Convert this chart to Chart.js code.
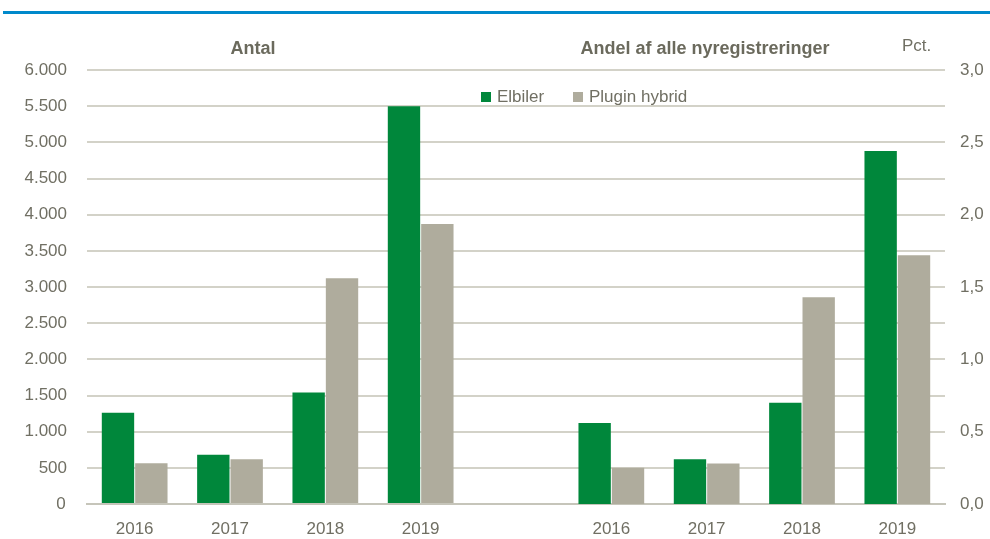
<!DOCTYPE html>
<html lang="da">
<head>
    <meta charset="UTF-8">
    <title>Elbiler og plugin hybrid</title>
    <script src="https://cdn.jsdelivr.net/npm/chart.js@4.4.1/dist/chart.umd.min.js"></script>
    <style>
        body { margin: 0; background: #fff; }
        #wrap { position: relative; width: 990px; height: 539px; overflow: hidden;
                font-family: 'Liberation Sans', Arial, sans-serif; color: #706f63; }
        #topline { position: absolute; left: 3px; right: 0; top: 11px; height: 3px; background: #0089cb; }
        .ttl { position: absolute; font-weight: bold; font-size: 18px; line-height: 22px; color: #6b6a5d; white-space: nowrap; }
        #pct { position: absolute; left: 902px; top: 36px; font-size: 17px; line-height: 20px; }
        .leg { position: absolute; top: 87px; font-size: 17px; line-height: 20px; white-space: nowrap; }
        .leg i { display: inline-block; width: 10px; height: 10px; margin-right: 6px; vertical-align: 0; }
        canvas { position: absolute; left: 0; top: 0; }
    </style>
</head>
<body>
<div id="wrap">
    <div id="topline"></div>
    <canvas id="chart" width="990" height="539"></canvas>
    <!-- panel titles -->
    <div class="ttl" style="left:203px;width:100px;text-align:center;top:37px">Antal</div>
    <div class="ttl" style="left:555px;width:300px;text-align:center;top:37px">Andel af alle nyregistreringer</div>
    <div id="pct">Pct.</div>
    <!-- legend -->
    <div class="leg" style="left:481px"><i style="background:#00873b"></i>Elbiler</div>
    <div class="leg" style="left:573px"><i style="background:#afac9d"></i>Plugin hybrid</div>
</div>
<script>
// data
const years = ['2016', '2017', '2018', '2019'];
const antalElbiler = [1260, 680, 1540, 5500];
const antalPlugin = [565, 620, 3120, 3870];
const andelElbiler = [0.56, 0.31, 0.70, 2.44];
const andelPlugin = [0.25, 0.28, 1.43, 1.72];
const antalMax = 6000, antalStep = 500;
const andelMax = 3, andelStep = 0.5;

const green = '#00873b';
const grey = '#afac9d';
const textCol = '#706f63';
const gridCol = '#d3d2c8';
const tickFont = { family: "'Liberation Sans', Arial, sans-serif", size: 17 };

// left half: antal, one empty slot, right half: andel
const categories = years.concat([''], years);
const blank = years.map(() => null).concat([null]);

function danishInt(v) {
    if (v === 0) return '0\u200A';
    return String(v).replace(/\B(?=(\d{3})+(?!\d))/g, '.');
}

var ctx = document.getElementById('chart').getContext('2d');
var chart = new Chart(ctx, {
    type: 'bar',
    data: {
        labels: categories,
        datasets: [
            { label: 'Elbiler', data: antalElbiler.concat(blank), backgroundColor: green, stack: 'el', yAxisID: 'y' },
            { label: 'Plugin hybrid', data: antalPlugin.concat(blank), backgroundColor: grey, stack: 'ph', yAxisID: 'y' },
            { label: 'Elbiler', data: blank.concat(andelElbiler), backgroundColor: green, stack: 'el', yAxisID: 'y1' },
            { label: 'Plugin hybrid', data: blank.concat(andelPlugin), backgroundColor: grey, stack: 'ph', yAxisID: 'y1' }
        ]
    },
    options: {
        responsive: false,
        devicePixelRatio: 1,
        animation: false,
        layout: { padding: { top: 70, left: 0, right: 0, bottom: 0 } },
        datasets: { bar: { categoryPercentage: 0.7, barPercentage: 0.97 } },
        plugins: { legend: { display: false }, tooltip: { enabled: false } },
        scales: {
            x: {
                grid: { display: false },
                border: { display: true, color: '#c6c5ba', width: 2 },
                ticks: { color: textCol, padding: 7, maxRotation: 0, autoSkip: false, font: tickFont },
                afterFit: function (s) { s.height = 35; }
            },
            y: {
                position: 'left',
                stacked: false,
                min: 0,
                max: antalMax,
                grid: { color: gridCol, lineWidth: 2, drawTicks: false },
                border: { display: false },
                ticks: { stepSize: antalStep, color: textCol, padding: 20, callback: danishInt, font: tickFont },
                afterFit: function (s) { s.width = 87; }
            },
            y1: {
                position: 'right',
                stacked: false,
                min: 0,
                max: andelMax,
                grid: { display: false, drawTicks: false },
                border: { display: false },
                ticks: { stepSize: andelStep, color: textCol, padding: 15, font: tickFont,
                         callback: v => v.toFixed(1).replace('.', ',') },
                afterFit: function (s) { s.width = 45; }
            }
        }
    }
});
</script>
</body>
</html>
